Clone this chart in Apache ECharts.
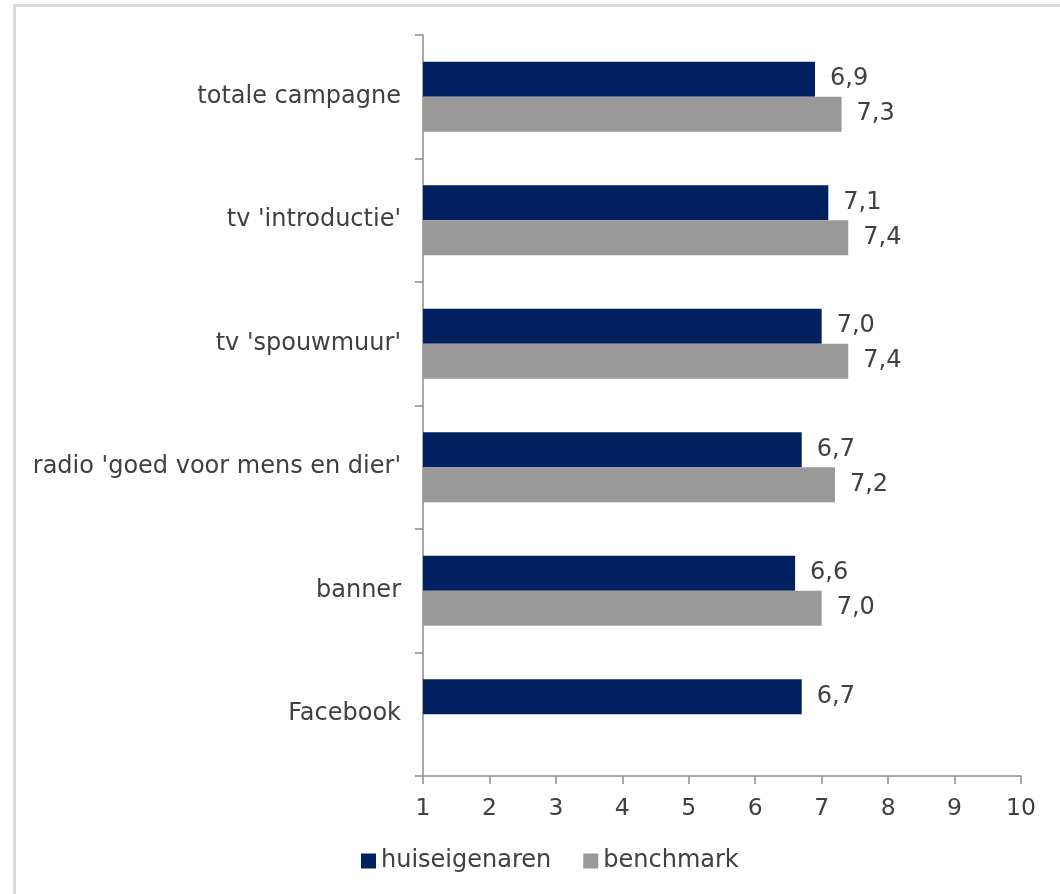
<!DOCTYPE html>
<html>
<head>
<meta charset="utf-8">
<script src="https://cdn.jsdelivr.net/npm/echarts@6/dist/echarts.min.js"></script>
<style>
html,body{margin:0;padding:0;background:#fff;}
#chart{width:1060px;height:894px;}
</style>
</head>
<body>
<div id="chart"></div>
<script>
const categories = ["totale campagne", "tv 'introductie'", "tv 'spouwmuur'", "radio 'goed voor mens en dier'", "banner", "Facebook"];
const huiseigenaren = [6.9, 7.1, 7.0, 6.7, 6.6, 6.7];
const benchmark = [7.3, 7.4, 7.4, 7.2, 7.0, null];
const xTicks = [1, 2, 3, 4, 5, 6, 7, 8, 9, 10];

const font = "'DejaVu Sans', Verdana, sans-serif";
const chart = echarts.init(document.getElementById('chart'), null, {renderer: 'canvas'});
const fmt = p => p.value == null ? '' : p.value.toFixed(1).replace('.', ',');

chart.setOption({
  animation: false,
  backgroundColor: '#ffffff',
  graphic: [{
    type: 'rect',
    shape: {x: 14.5, y: 5.5, width: 1100, height: 1000},
    style: {fill: 'none', stroke: '#d9d9d9', lineWidth: 3},
    silent: true
  }],
  grid: {left: 423, right: 39, top: 35, bottom: 118, containLabel: false},
  legend: {
    left: 356, bottom: 16,
    itemWidth: 15, itemHeight: 15, itemGap: 32,
    icon: 'rect',
    textStyle: {fontFamily: font, fontSize: 24, color: '#404040'},
    data: ['huiseigenaren', 'benchmark']
  },
  xAxis: {
    type: 'value', min: xTicks[0], max: xTicks[xTicks.length - 1], interval: 1,
    axisLine: {show: true, lineStyle: {color: '#8c8c8c', width: 1.5}},
    axisTick: {show: true, length: 8, lineStyle: {color: '#8c8c8c', width: 1.5}},
    splitLine: {show: false},
    axisLabel: {fontFamily: font, fontSize: 23.5, color: '#404040', margin: 21}
  },
  yAxis: {
    type: 'category', data: categories, inverse: true,
    axisLine: {show: true, lineStyle: {color: '#8c8c8c', width: 1.5}},
    axisTick: {show: true, length: 8, alignWithLabel: false, lineStyle: {color: '#8c8c8c', width: 1.5}},
    axisLabel: {fontFamily: font, fontSize: 24, color: '#404040', margin: 22}
  },
  series: [
    {
      name: 'huiseigenaren', type: 'bar', data: huiseigenaren,
      barWidth: 35, barGap: '0%', barCategoryGap: '43%',
      itemStyle: {color: '#002060'},
      label: {show: true, position: 'right', distance: 15, formatter: fmt,
        fontFamily: font, fontSize: 24, color: '#404040'}
    },
    {
      name: 'benchmark', type: 'bar', data: benchmark,
      barWidth: 35, barGap: '0%',
      itemStyle: {color: '#999999'},
      label: {show: true, position: 'right', distance: 15, formatter: fmt,
        fontFamily: font, fontSize: 24, color: '#404040'}
    }
  ]
});
</script>
</body>
</html>
